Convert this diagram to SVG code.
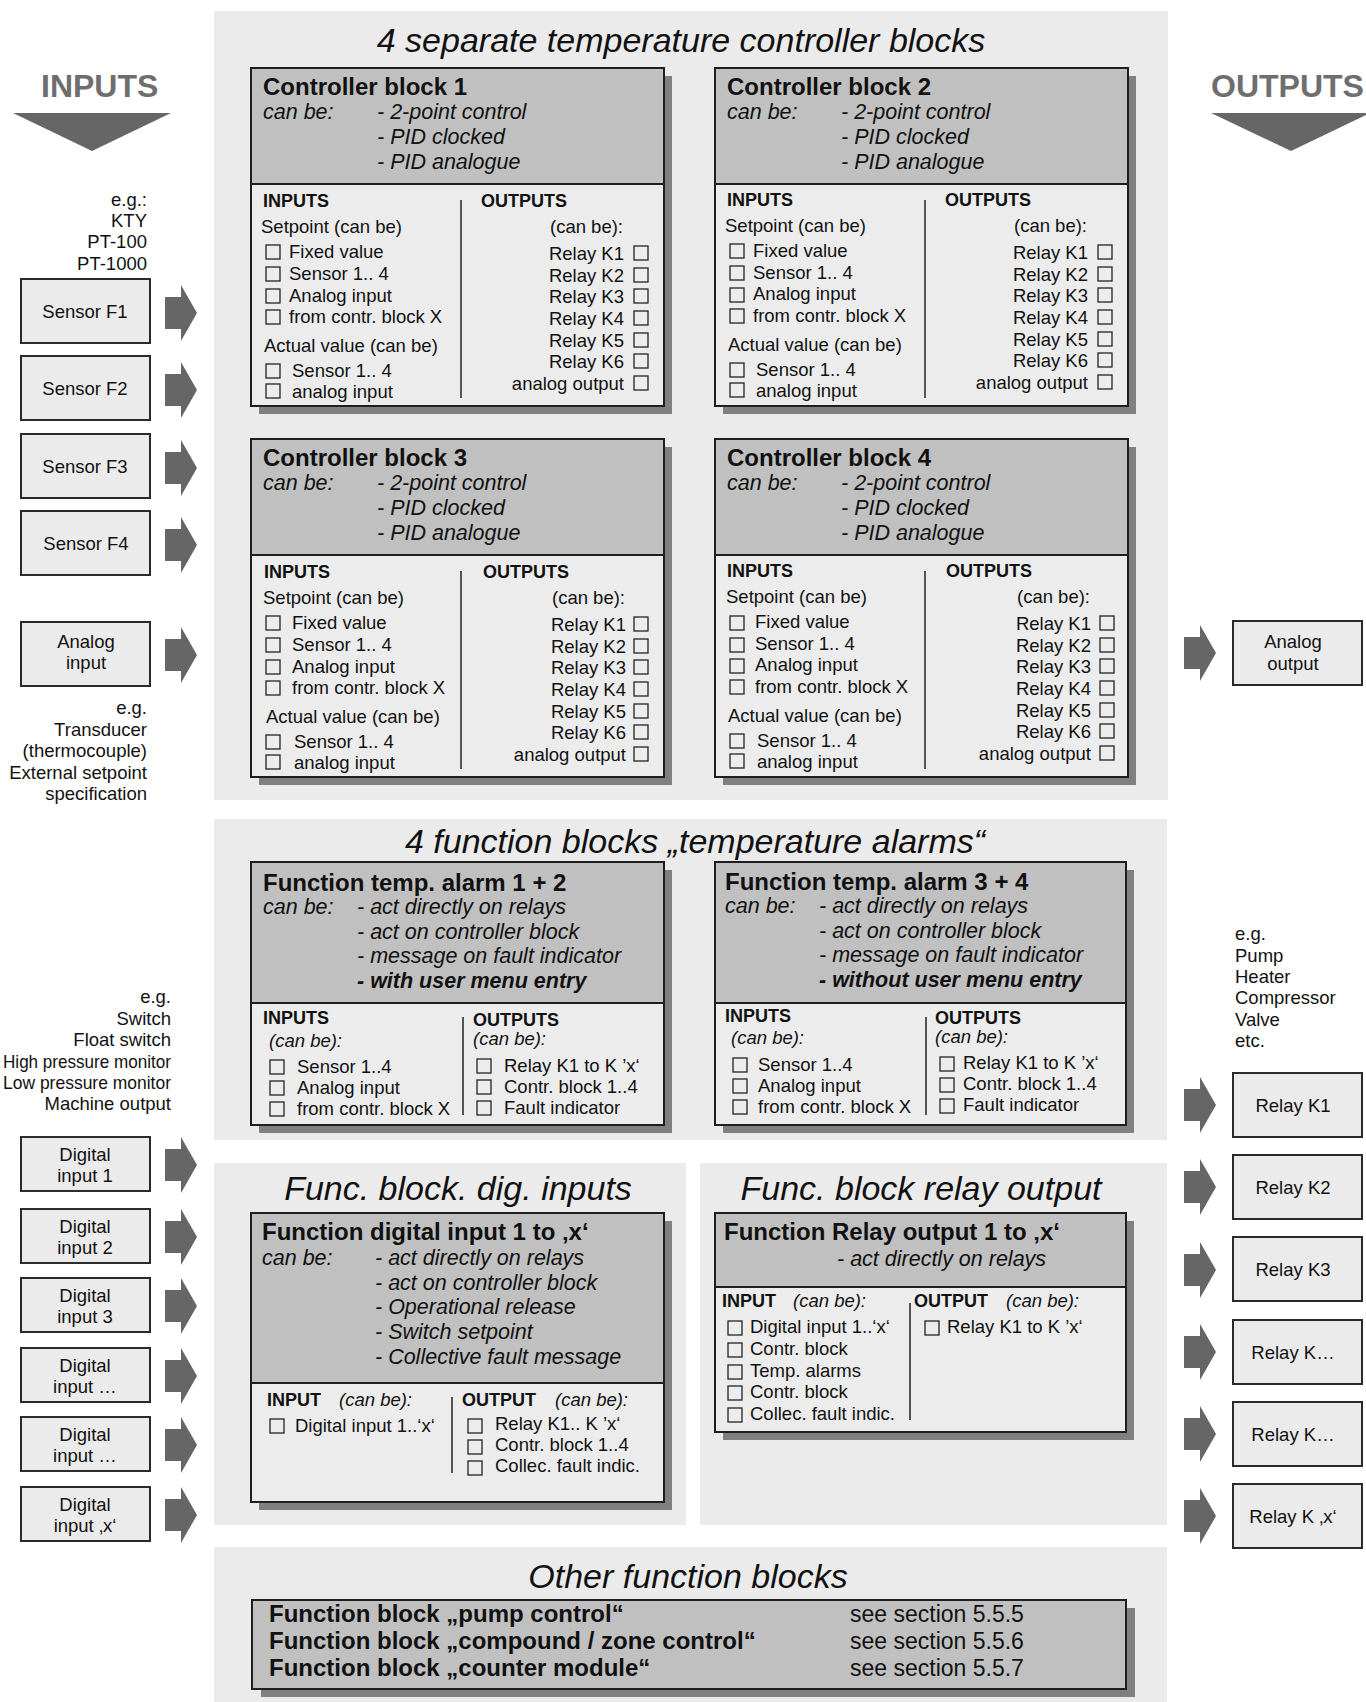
<svg xmlns="http://www.w3.org/2000/svg" width="1366" height="1702" viewBox="0 0 1366 1702">
<style>
text{font-family:"Liberation Sans",Arial,Helvetica,sans-serif;font-size:18.5px;fill:#111}
.b{font-weight:bold}
.i{font-style:italic}
.h{font-size:24px;font-weight:bold}
.hi{font-size:21.5px;font-style:italic}
.sh{font-size:18px;font-weight:bold}
.ti{font-size:34px;font-style:italic;text-anchor:middle}
.big{font-size:32px;font-weight:bold;fill:#6e6e6e}
.e{text-anchor:end}
.m{text-anchor:middle}
.panel{fill:#ebebeb}
.shadow{fill:#808080}
.box{fill:#ececec;stroke:#1e1e1e;stroke-width:2}
.hdr{fill:#c0c0c0;stroke:#1e1e1e;stroke-width:2}
.io{fill:#ebebeb;stroke:#2a2a2a;stroke-width:2}
.cb{fill:none;stroke:#222;stroke-width:1.3}
.div{stroke:#222;stroke-width:1.5}
.arr{fill:#666}
.tri{fill:#666}
</style>
<defs>
<path id="arr" d="M0,-16 H16 V-28 L32,0 L16,28 V16 H0 Z"/>
</defs>

<!-- background panels -->
<rect class="panel" x="214" y="11" width="954" height="789"/>
<rect class="panel" x="214" y="819" width="953" height="321"/>
<rect class="panel" x="214" y="1163" width="472" height="362"/>
<rect class="panel" x="700" y="1163" width="467" height="362"/>
<rect class="panel" x="214" y="1547" width="953" height="155"/>

<text class="ti" x="681" y="52">4 separate temperature controller blocks</text>
<text class="ti" x="695" y="853">4 function blocks „temperature alarms“</text>
<text class="ti" x="458" y="1200">Func. block. dig. inputs</text>
<text class="ti" x="921" y="1200">Func. block relay output</text>
<text class="ti" x="688" y="1588">Other function blocks</text>

<!-- INPUTS / OUTPUTS headings -->
<g id="inputs-head">
<text class="big" x="41" y="97">INPUTS</text>
<polygon class="tri" points="13,113 171,113 92,151"/>
</g>
<g id="outputs-head">
<text class="big" x="1211" y="97">OUTPUTS</text>
<polygon class="tri" points="1211,113 1370,113 1291,151"/>
</g>

<g id="sensor-note">
<text class="e" x="147" y="206">e.g.:</text>
<text class="e" x="147" y="227">KTY</text>
<text class="e" x="147" y="248">PT-100</text>
<text class="e" x="147" y="270">PT-1000</text>
</g>

<g id="sensorF1"><rect class="io" x="21" y="279" width="129" height="64"/><text class="m" x="85" y="318">Sensor F1</text></g>
<g id="sensorF2"><rect class="io" x="21" y="356" width="129" height="64"/><text class="m" x="85" y="395">Sensor F2</text></g>
<g id="sensorF3"><rect class="io" x="21" y="434" width="129" height="64"/><text class="m" x="85" y="473">Sensor F3</text></g>
<g id="sensorF4"><rect class="io" x="21" y="511" width="129" height="64"/><text class="m" x="86" y="550">Sensor F4</text></g>
<g id="analog-input"><rect class="io" x="21" y="622" width="129" height="64"/><text class="m" x="86" y="648">Analog</text><text class="m" x="86" y="669">input</text></g>

<g id="analog-note">
<text class="e" x="147" y="714">e.g.</text>
<text class="e" x="147" y="736">Transducer</text>
<text class="e" x="147" y="757">(thermocouple)</text>
<text class="e" x="147" y="779">External setpoint</text>
<text class="e" x="147" y="800">specification</text>
</g>

<g id="digital-note">
<text class="e" x="171" y="1003">e.g.</text>
<text class="e" x="171" y="1025">Switch</text>
<text class="e" x="171" y="1046">Float switch</text>
<text class="e" x="171" y="1068" textLength="168" lengthAdjust="spacingAndGlyphs">High pressure monitor</text>
<text class="e" x="171" y="1089" textLength="168" lengthAdjust="spacingAndGlyphs">Low pressure monitor</text>
<text class="e" x="171" y="1110">Machine output</text>
</g>

<g id="di1"><rect class="io" x="21" y="1137" width="129" height="54"/><text class="m" x="85" y="1161">Digital</text><text class="m" x="85" y="1182">input 1</text></g>
<g id="di2"><rect class="io" x="21" y="1209" width="129" height="54"/><text class="m" x="85" y="1233">Digital</text><text class="m" x="85" y="1254">input 2</text></g>
<g id="di3"><rect class="io" x="21" y="1278" width="129" height="54"/><text class="m" x="85" y="1302">Digital</text><text class="m" x="85" y="1323">input 3</text></g>
<g id="di4"><rect class="io" x="21" y="1348" width="129" height="54"/><text class="m" x="85" y="1372">Digital</text><text class="m" x="85" y="1393">input …</text></g>
<g id="di5"><rect class="io" x="21" y="1417" width="129" height="54"/><text class="m" x="85" y="1441">Digital</text><text class="m" x="85" y="1462">input …</text></g>
<g id="di6"><rect class="io" x="21" y="1487" width="129" height="54"/><text class="m" x="85" y="1511">Digital</text><text class="m" x="85" y="1532">input ‚x‘</text></g>

<g id="relay-note">
<text x="1235" y="940">e.g.</text>
<text x="1235" y="962">Pump</text>
<text x="1235" y="983">Heater</text>
<text x="1235" y="1004">Compressor</text>
<text x="1235" y="1026">Valve</text>
<text x="1235" y="1047">etc.</text>
</g>

<g id="analog-output"><rect class="io" x="1233" y="621" width="129" height="64"/><text class="m" x="1293" y="648">Analog</text><text class="m" x="1293" y="670">output</text></g>
<g id="relayK1"><rect class="io" x="1233" y="1073" width="129" height="64"/><text class="m" x="1293" y="1112">Relay K1</text></g>
<g id="relayK2"><rect class="io" x="1233" y="1155" width="129" height="64"/><text class="m" x="1293" y="1194">Relay K2</text></g>
<g id="relayK3"><rect class="io" x="1233" y="1237" width="129" height="64"/><text class="m" x="1293" y="1276">Relay K3</text></g>
<g id="relayK4"><rect class="io" x="1233" y="1320" width="129" height="64"/><text class="m" x="1293" y="1359">Relay K…</text></g>
<g id="relayK5"><rect class="io" x="1233" y="1402" width="129" height="64"/><text class="m" x="1293" y="1441">Relay K…</text></g>
<g id="relayKx"><rect class="io" x="1233" y="1484" width="129" height="64"/><text class="m" x="1293" y="1523">Relay K ‚x‘</text></g>

<!-- Controller block 1 -->
<g id="ctrl1">
<rect class="shadow" x="259" y="76" width="413" height="338"/>
<rect class="box" x="251" y="68" width="413" height="338"/>
<rect class="hdr" x="251" y="68" width="413" height="116"/>
<text class="h" x="263" y="95">Controller block 1</text>
<text class="hi" x="263" y="119">can be:</text>
<text class="hi" x="377" y="119">- 2-point control</text>
<text class="hi" x="377" y="144">- PID clocked</text>
<text class="hi" x="377" y="169">- PID analogue</text>
<text class="sh" x="263" y="207">INPUTS</text>
<text class="sh" x="481" y="207">OUTPUTS</text>
<line class="div" x1="461" y1="200" x2="461" y2="398"/>
<text x="261" y="233">Setpoint (can be)</text>
<rect class="cb" x="266" y="245" width="14" height="14"/><text x="289" y="258">Fixed value</text>
<rect class="cb" x="266" y="267" width="14" height="14"/><text x="289" y="280">Sensor 1.. 4</text>
<rect class="cb" x="266" y="289" width="14" height="14"/><text x="289" y="302">Analog input</text>
<rect class="cb" x="266" y="310" width="14" height="14"/><text x="289" y="323">from contr. block X</text>
<text x="264" y="352">Actual value (can be)</text>
<rect class="cb" x="266" y="364" width="14" height="14"/><text x="292" y="377">Sensor 1.. 4</text>
<rect class="cb" x="266" y="384" width="14" height="14"/><text x="292" y="398">analog input</text>
<text class="e" x="623" y="233">(can be):</text>
<text class="e" x="624" y="260">Relay K1</text><rect class="cb" x="634" y="246" width="14" height="14"/>
<text class="e" x="624" y="282">Relay K2</text><rect class="cb" x="634" y="268" width="14" height="14"/>
<text class="e" x="624" y="303">Relay K3</text><rect class="cb" x="634" y="289" width="14" height="14"/>
<text class="e" x="624" y="325">Relay K4</text><rect class="cb" x="634" y="311" width="14" height="14"/>
<text class="e" x="624" y="347">Relay K5</text><rect class="cb" x="634" y="333" width="14" height="14"/>
<text class="e" x="624" y="368">Relay K6</text><rect class="cb" x="634" y="354" width="14" height="14"/>
<text class="e" x="624" y="390">analog output</text><rect class="cb" x="634" y="376" width="14" height="14"/>
</g>

<!-- Controller block 2 -->
<g id="ctrl2" transform="translate(464,0)">
<rect class="shadow" x="259" y="76" width="413" height="338"/>
<rect class="box" x="251" y="68" width="413" height="338"/>
<rect class="hdr" x="251" y="68" width="413" height="116"/>
<text class="h" x="263" y="95">Controller block 2</text>
<text class="hi" x="263" y="119">can be:</text>
<text class="hi" x="377" y="119">- 2-point control</text>
<text class="hi" x="377" y="144">- PID clocked</text>
<text class="hi" x="377" y="169">- PID analogue</text>
<text class="sh" x="263" y="206">INPUTS</text>
<text class="sh" x="481" y="206">OUTPUTS</text>
<line class="div" x1="461" y1="200" x2="461" y2="398"/>
<text x="261" y="232">Setpoint (can be)</text>
<rect class="cb" x="266" y="244" width="14" height="14"/><text x="289" y="257">Fixed value</text>
<rect class="cb" x="266" y="266" width="14" height="14"/><text x="289" y="279">Sensor 1.. 4</text>
<rect class="cb" x="266" y="288" width="14" height="14"/><text x="289" y="300">Analog input</text>
<rect class="cb" x="266" y="309" width="14" height="14"/><text x="289" y="322">from contr. block X</text>
<text x="264" y="351">Actual value (can be)</text>
<rect class="cb" x="266" y="363" width="14" height="14"/><text x="292" y="376">Sensor 1.. 4</text>
<rect class="cb" x="266" y="383" width="14" height="14"/><text x="292" y="397">analog input</text>
<text class="e" x="623" y="232">(can be):</text>
<text class="e" x="624" y="259">Relay K1</text><rect class="cb" x="634" y="245" width="14" height="14"/>
<text class="e" x="624" y="281">Relay K2</text><rect class="cb" x="634" y="267" width="14" height="14"/>
<text class="e" x="624" y="302">Relay K3</text><rect class="cb" x="634" y="288" width="14" height="14"/>
<text class="e" x="624" y="324">Relay K4</text><rect class="cb" x="634" y="310" width="14" height="14"/>
<text class="e" x="624" y="346">Relay K5</text><rect class="cb" x="634" y="332" width="14" height="14"/>
<text class="e" x="624" y="367">Relay K6</text><rect class="cb" x="634" y="353" width="14" height="14"/>
<text class="e" x="624" y="389">analog output</text><rect class="cb" x="634" y="375" width="14" height="14"/>
</g>

<!-- Controller block 3 -->
<g id="ctrl3" transform="translate(0,371)">
<rect class="shadow" x="259" y="76" width="413" height="338"/>
<rect class="box" x="251" y="68" width="413" height="338"/>
<rect class="hdr" x="251" y="68" width="413" height="116"/>
<text class="h" x="263" y="95">Controller block 3</text>
<text class="hi" x="263" y="119">can be:</text>
<text class="hi" x="377" y="119">- 2-point control</text>
<text class="hi" x="377" y="144">- PID clocked</text>
<text class="hi" x="377" y="169">- PID analogue</text>
<text class="sh" x="264" y="207">INPUTS</text>
<text class="sh" x="483" y="207">OUTPUTS</text>
<line class="div" x1="461" y1="200" x2="461" y2="398"/>
<text x="263" y="233">Setpoint (can be)</text>
<rect class="cb" x="266" y="245" width="14" height="14"/><text x="292" y="258">Fixed value</text>
<rect class="cb" x="266" y="267" width="14" height="14"/><text x="292" y="280">Sensor 1.. 4</text>
<rect class="cb" x="266" y="289" width="14" height="14"/><text x="292" y="302">Analog input</text>
<rect class="cb" x="266" y="310" width="14" height="14"/><text x="292" y="323">from contr. block X</text>
<text x="266" y="352">Actual value (can be)</text>
<rect class="cb" x="266" y="364" width="14" height="14"/><text x="294" y="377">Sensor 1.. 4</text>
<rect class="cb" x="266" y="384" width="14" height="14"/><text x="294" y="398">analog input</text>
<text class="e" x="625" y="233">(can be):</text>
<text class="e" x="626" y="260">Relay K1</text><rect class="cb" x="634" y="246" width="14" height="14"/>
<text class="e" x="626" y="282">Relay K2</text><rect class="cb" x="634" y="268" width="14" height="14"/>
<text class="e" x="626" y="303">Relay K3</text><rect class="cb" x="634" y="289" width="14" height="14"/>
<text class="e" x="626" y="325">Relay K4</text><rect class="cb" x="634" y="311" width="14" height="14"/>
<text class="e" x="626" y="347">Relay K5</text><rect class="cb" x="634" y="333" width="14" height="14"/>
<text class="e" x="626" y="368">Relay K6</text><rect class="cb" x="634" y="354" width="14" height="14"/>
<text class="e" x="626" y="390">analog output</text><rect class="cb" x="634" y="376" width="14" height="14"/>
</g>

<!-- Controller block 4 -->
<g id="ctrl4" transform="translate(464,371)">
<rect class="shadow" x="259" y="76" width="413" height="338"/>
<rect class="box" x="251" y="68" width="413" height="338"/>
<rect class="hdr" x="251" y="68" width="413" height="116"/>
<text class="h" x="263" y="95">Controller block 4</text>
<text class="hi" x="263" y="119">can be:</text>
<text class="hi" x="377" y="119">- 2-point control</text>
<text class="hi" x="377" y="144">- PID clocked</text>
<text class="hi" x="377" y="169">- PID analogue</text>
<text class="sh" x="263" y="206">INPUTS</text>
<text class="sh" x="482" y="206">OUTPUTS</text>
<line class="div" x1="461" y1="200" x2="461" y2="398"/>
<text x="262" y="232">Setpoint (can be)</text>
<rect class="cb" x="266" y="245" width="14" height="14"/><text x="291" y="257">Fixed value</text>
<rect class="cb" x="266" y="267" width="14" height="14"/><text x="291" y="279">Sensor 1.. 4</text>
<rect class="cb" x="266" y="288" width="14" height="14"/><text x="291" y="300">Analog input</text>
<rect class="cb" x="266" y="309" width="14" height="14"/><text x="291" y="322">from contr. block X</text>
<text x="264" y="351">Actual value (can be)</text>
<rect class="cb" x="266" y="363" width="14" height="14"/><text x="293" y="376">Sensor 1.. 4</text>
<rect class="cb" x="266" y="383" width="14" height="14"/><text x="293" y="397">analog input</text>
<text class="e" x="626" y="232">(can be):</text>
<text class="e" x="627" y="259">Relay K1</text><rect class="cb" x="636" y="245" width="14" height="14"/>
<text class="e" x="627" y="281">Relay K2</text><rect class="cb" x="636" y="267" width="14" height="14"/>
<text class="e" x="627" y="302">Relay K3</text><rect class="cb" x="636" y="288" width="14" height="14"/>
<text class="e" x="627" y="324">Relay K4</text><rect class="cb" x="636" y="310" width="14" height="14"/>
<text class="e" x="627" y="346">Relay K5</text><rect class="cb" x="636" y="332" width="14" height="14"/>
<text class="e" x="627" y="367">Relay K6</text><rect class="cb" x="636" y="353" width="14" height="14"/>
<text class="e" x="627" y="389">analog output</text><rect class="cb" x="636" y="375" width="14" height="14"/>
</g>

<!-- Alarm 1+2 -->
<g id="alarm12">
<rect class="shadow" x="259" y="870" width="413" height="263"/>
<rect class="box" x="251" y="862" width="413" height="263"/>
<rect class="hdr" x="251" y="862" width="413" height="141"/>
<text class="h" x="263" y="891">Function temp. alarm 1 + 2</text>
<text class="hi" x="263" y="914">can be:</text>
<text class="hi" x="357" y="914">- act directly on relays</text>
<text class="hi" x="357" y="939">- act on controller block</text>
<text class="hi" x="357" y="963">- message on fault indicator</text>
<text class="hi b" x="357" y="988">- with user menu entry</text>
<text class="sh" x="263" y="1024">INPUTS</text>
<text class="i" x="269" y="1047">(can be):</text>
<rect class="cb" x="270" y="1060" width="14" height="14"/><text x="297" y="1073">Sensor 1..4</text>
<rect class="cb" x="270" y="1081" width="14" height="14"/><text x="297" y="1094">Analog input</text>
<rect class="cb" x="270" y="1102" width="14" height="14"/><text x="297" y="1115">from contr. block X</text>
<line class="div" x1="463" y1="1017" x2="463" y2="1115"/>
<text class="sh" x="473" y="1026">OUTPUTS</text>
<text class="i" x="473" y="1045">(can be):</text>
<rect class="cb" x="477" y="1059" width="14" height="14"/><text x="504" y="1072">Relay K1 to K ’x‘</text>
<rect class="cb" x="477" y="1080" width="14" height="14"/><text x="504" y="1093">Contr. block 1..4</text>
<rect class="cb" x="477" y="1101" width="14" height="14"/><text x="504" y="1114">Fault indicator</text>
</g>

<!-- Alarm 3+4 -->
<g id="alarm34">
<rect class="shadow" x="723" y="870" width="411" height="263"/>
<rect class="box" x="715" y="862" width="411" height="263"/>
<rect class="hdr" x="715" y="862" width="411" height="141"/>
<text class="h" x="725" y="890">Function temp. alarm 3 + 4</text>
<text class="hi" x="725" y="913">can be:</text>
<text class="hi" x="819" y="913">- act directly on relays</text>
<text class="hi" x="819" y="938">- act on controller block</text>
<text class="hi" x="819" y="962">- message on fault indicator</text>
<text class="hi b" x="819" y="987">- without user menu entry</text>
<text class="sh" x="725" y="1022">INPUTS</text>
<text class="i" x="731" y="1044">(can be):</text>
<rect class="cb" x="733" y="1058" width="14" height="14"/><text x="758" y="1071">Sensor 1..4</text>
<rect class="cb" x="733" y="1079" width="14" height="14"/><text x="758" y="1092">Analog input</text>
<rect class="cb" x="733" y="1100" width="14" height="14"/><text x="758" y="1113">from contr. block X</text>
<line class="div" x1="926" y1="1017" x2="926" y2="1115"/>
<text class="sh" x="935" y="1024">OUTPUTS</text>
<text class="i" x="935" y="1043">(can be):</text>
<rect class="cb" x="940" y="1057" width="14" height="14"/><text x="963" y="1069">Relay K1 to K ’x‘</text>
<rect class="cb" x="940" y="1078" width="14" height="14"/><text x="963" y="1090">Contr. block 1..4</text>
<rect class="cb" x="940" y="1099" width="14" height="14"/><text x="963" y="1111">Fault indicator</text>
</g>

<!-- Digital input function -->
<g id="func-digital">
<rect class="shadow" x="259" y="1221" width="413" height="289"/>
<rect class="box" x="251" y="1213" width="413" height="289"/>
<rect class="hdr" x="251" y="1213" width="413" height="170"/>
<text class="h" x="262" y="1240">Function digital input 1 to ‚x‘</text>
<text class="hi" x="262" y="1265">can be:</text>
<text class="hi" x="375" y="1265">- act directly on relays</text>
<text class="hi" x="375" y="1290">- act on controller block</text>
<text class="hi" x="375" y="1314">- Operational release</text>
<text class="hi" x="375" y="1339">- Switch setpoint</text>
<text class="hi" x="375" y="1364">- Collective fault message</text>
<text class="sh" x="267" y="1406">INPUT</text>
<text class="i" x="339" y="1406">(can be):</text>
<rect class="cb" x="270" y="1419" width="14" height="14"/><text x="295" y="1432">Digital input 1..‘x‘</text>
<line class="div" x1="452" y1="1397" x2="452" y2="1473"/>
<text class="sh" x="462" y="1406">OUTPUT</text>
<text class="i" x="555" y="1406">(can be):</text>
<rect class="cb" x="468" y="1419" width="14" height="14"/><text x="495" y="1430">Relay K1.. K ’x‘</text>
<rect class="cb" x="468" y="1440" width="14" height="14"/><text x="495" y="1451">Contr. block 1..4</text>
<rect class="cb" x="468" y="1461" width="14" height="14"/><text x="495" y="1472">Collec. fault indic.</text>
</g>

<!-- Relay output function -->
<g id="func-relay">
<rect class="shadow" x="723" y="1221" width="411" height="219"/>
<rect class="box" x="715" y="1213" width="411" height="219"/>
<rect class="hdr" x="715" y="1213" width="411" height="74"/>
<text class="h" x="724" y="1240">Function Relay output 1 to ‚x‘</text>
<text class="hi" x="837" y="1266">- act directly on relays</text>
<text class="sh" x="722" y="1307">INPUT</text>
<text class="i" x="793" y="1307">(can be):</text>
<rect class="cb" x="728" y="1321" width="14" height="14"/><text x="750" y="1333">Digital input 1..‘x‘</text>
<rect class="cb" x="728" y="1343" width="14" height="14"/><text x="750" y="1355">Contr. block</text>
<rect class="cb" x="728" y="1365" width="14" height="14"/><text x="750" y="1377">Temp. alarms</text>
<rect class="cb" x="728" y="1386" width="14" height="14"/><text x="750" y="1398">Contr. block</text>
<rect class="cb" x="728" y="1408" width="14" height="14"/><text x="750" y="1420">Collec. fault indic.</text>
<line class="div" x1="910" y1="1303" x2="910" y2="1420"/>
<text class="sh" x="914" y="1307">OUTPUT</text>
<text class="i" x="1006" y="1307">(can be):</text>
<rect class="cb" x="925" y="1321" width="14" height="14"/><text x="947" y="1333">Relay K1 to K ’x‘</text>
</g>

<!-- Other function blocks -->
<g id="other">
<rect class="shadow" x="261" y="1608" width="874" height="89"/>
<rect class="hdr" x="252" y="1600" width="874" height="89"/>
<text class="h" x="269" y="1622">Function block „pump control“</text>
<text class="h" x="269" y="1649">Function block „compound / zone control“</text>
<text class="h" x="269" y="1676">Function block „counter module“</text>
<text x="850" y="1622" style="font-size:23px">see section 5.5.5</text>
<text x="850" y="1649" style="font-size:23px">see section 5.5.6</text>
<text x="850" y="1676" style="font-size:23px">see section 5.5.7</text>
</g>

<!-- connectors -->
<g id="connectors" class="arr">
<use href="#arr" x="165" y="313"/>
<use href="#arr" x="165" y="390"/>
<use href="#arr" x="165" y="468"/>
<use href="#arr" x="165" y="545"/>
<use href="#arr" x="165" y="655"/>
<use href="#arr" x="165" y="1165"/>
<use href="#arr" x="165" y="1237"/>
<use href="#arr" x="165" y="1306"/>
<use href="#arr" x="165" y="1376"/>
<use href="#arr" x="165" y="1445"/>
<use href="#arr" x="165" y="1515"/>
<use href="#arr" x="1184" y="653"/>
<use href="#arr" x="1184" y="1105"/>
<use href="#arr" x="1184" y="1187"/>
<use href="#arr" x="1184" y="1270"/>
<use href="#arr" x="1184" y="1352"/>
<use href="#arr" x="1184" y="1434"/>
<use href="#arr" x="1184" y="1516"/>
</g>
</svg>
